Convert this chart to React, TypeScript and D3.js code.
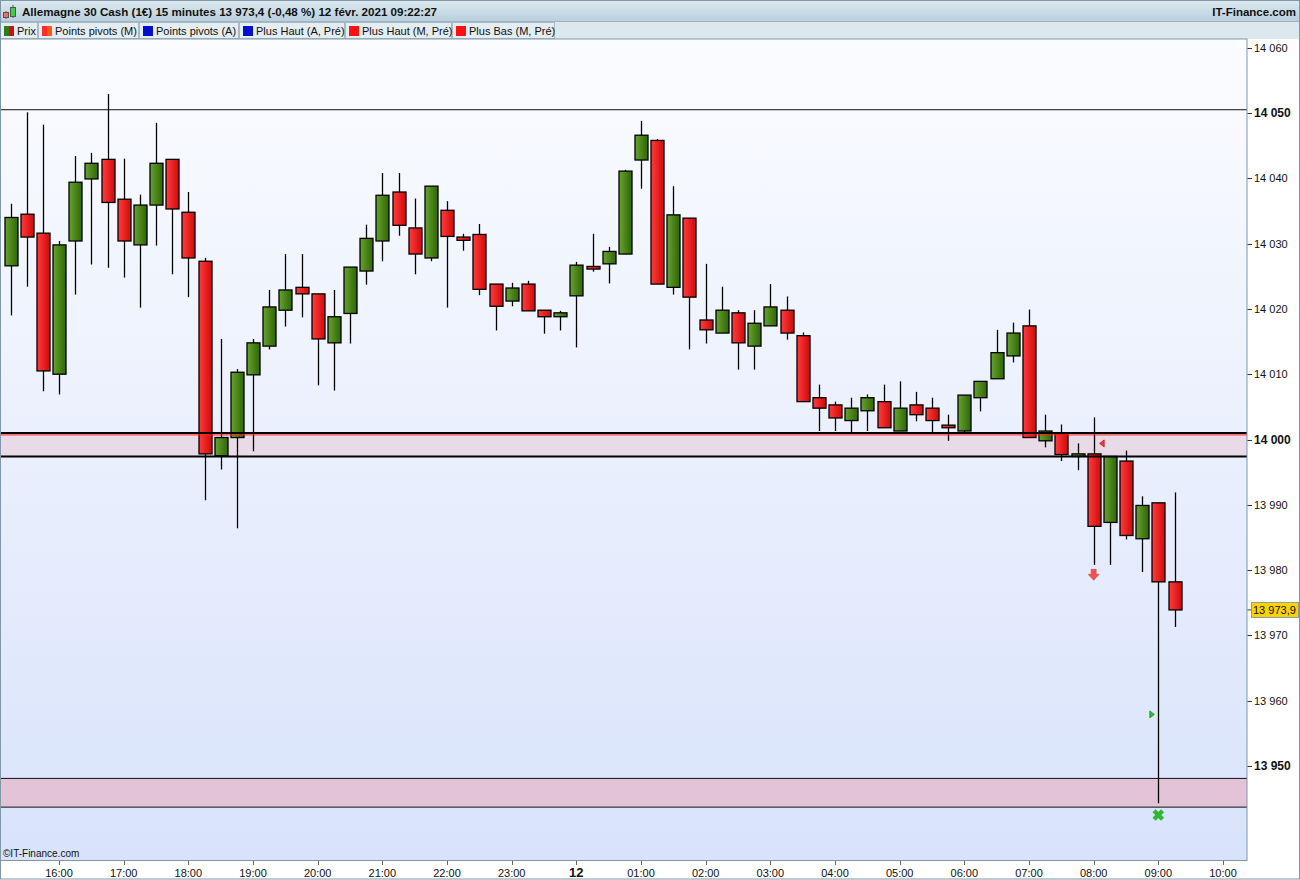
import { scaleLinear } from 'd3'

const W = 1300
const H = 880
const PLOT_L = 0
const PLOT_R = 1247
const PLOT_T = 39
const PLOT_B = 860
const FONT = '"Liberation Sans", Arial, sans-serif'

// 15-minute candles, first one at 15:15 on the 11th
const START_HOUR = 15.25
const STEP = 0.25
const opens = [
  14026.6, 14034.5, 14031.6, 14010.0, 14030.4, 14039.9, 14042.9, 14036.8, 14029.8, 14035.9,
  14042.9, 14034.8, 14027.3, 13997.5, 14000.3, 14009.9, 14014.3, 14019.8, 14023.3, 14022.3,
  14014.8, 14019.3, 14025.8, 14030.4, 14037.9, 14032.4, 14027.8, 14035.1, 14031.0, 14031.4,
  14023.8, 14021.2, 14023.8, 14019.8, 14018.8, 14022.0, 14026.5, 14026.9, 14028.4, 14042.8,
  14045.8, 14023.3, 14033.9, 14018.3, 14016.3, 14019.4, 14014.3, 14017.4, 14019.8, 14015.9,
  14006.4, 14005.3, 14002.9, 14004.4, 14005.8, 14001.3, 14005.3, 14004.8, 14002.2, 14001.3,
  14006.4, 14009.3, 14012.8, 14017.4, 13999.8, 14000.9, 13997.4, 13997.8, 13987.3, 13996.7,
  13984.8, 13990.3, 13978.2,
]
const highs = [
  14036.1, 14050.1, 14048.2, 14030.4, 14043.4, 14043.9, 14052.9, 14043.0, 14037.5, 14048.5,
  14042.9, 14037.9, 14027.8, 14015.4, 14010.8, 14015.4, 14022.9, 14028.4, 14028.4, 14022.3,
  14022.9, 14026.4, 14032.9, 14040.8, 14040.8, 14036.9, 14038.8, 14036.5, 14031.5, 14033.0,
  14023.8, 14024.0, 14024.3, 14019.8, 14019.7, 14027.2, 14031.5, 14029.5, 14041.3, 14048.8,
  14046.0, 14038.8, 14033.9, 14026.9, 14023.4, 14019.8, 14019.8, 14023.8, 14021.9, 14016.4,
  14008.4, 14005.8, 14006.4, 14006.9, 14008.4, 14008.9, 14007.3, 14006.4, 14003.8, 14006.8,
  14008.9, 14016.8, 14017.9, 14019.9, 14003.8, 14002.3, 13999.4, 14003.4, 13997.4, 13998.3,
  13991.3, 13990.3, 13991.9,
]
const lows = [
  14019.0, 14023.4, 14007.4, 14006.9, 14022.2, 14026.8, 14026.3, 14024.8, 14020.2, 14029.7,
  14025.3, 14021.8, 13990.7, 13995.4, 13986.4, 13998.2, 14013.8, 14017.3, 14018.7, 14008.3,
  14007.5, 14014.7, 14023.7, 14027.3, 14031.2, 14025.3, 14027.3, 14020.2, 14028.9, 14022.1,
  14016.7, 14020.4, 14019.7, 14016.2, 14016.7, 14014.1, 14025.7, 14023.9, 14028.4, 14038.4,
  14023.8, 14022.2, 14013.8, 14014.7, 14016.3, 14010.7, 14010.7, 14017.4, 14015.3, 14005.8,
  14001.3, 14001.3, 14001.1, 14001.3, 14001.8, 14001.3, 14002.8, 14001.1, 13999.8, 14001.0,
  14004.3, 14009.3, 14011.8, 14000.3, 13998.8, 13996.7, 13995.3, 13980.8, 13980.8, 13984.7,
  13979.7, 13944.3, 13971.3,
]
const closes = [
  14034.0, 14031.0, 14010.5, 14029.8, 14039.4, 14042.3, 14036.3, 14030.4, 14035.9, 14042.3,
  14035.3, 14027.8, 13997.8, 14000.3, 14010.3, 14014.8, 14020.3, 14022.9, 14022.3, 14015.4,
  14018.8, 14026.4, 14030.8, 14037.4, 14032.8, 14028.4, 14038.8, 14031.1, 14030.5, 14023.0,
  14020.4, 14023.2, 14019.7, 14018.8, 14019.4, 14026.7, 14026.1, 14028.8, 14041.1, 14046.6,
  14023.8, 14034.4, 14021.8, 14016.8, 14019.8, 14014.8, 14017.8, 14020.3, 14016.3, 14005.8,
  14004.8, 14003.3, 14004.8, 14006.4, 14001.8, 14004.8, 14003.8, 14002.9, 14001.8, 14006.8,
  14008.9, 14013.3, 14016.3, 14000.3, 14001.3, 13997.7, 13997.8, 13986.7, 13997.4, 13985.3,
  13989.9, 13978.2, 13973.9,
]

const LAST_PRICE = 13973.9
const LAST_LABEL = '13 973,9'

// horizontal levels
const YEAR_HIGH = 14050.5
const PIVOT_BAND = [14001.0, 13997.4]
const PIVOT_RED = 14000.7
const LOW_BAND = [13948.1, 13943.7]

const yTicks = [13950, 13960, 13970, 13980, 13990, 14000, 14010, 14020, 14030, 14040, 14050, 14060]
const yBold = [13950, 14000, 14050]
const xTickHours = [16, 17, 18, 19, 20, 21, 22, 23, 24, 25, 26, 27, 28, 29, 30, 31, 32, 33, 34]
const xTickLabels = ['16:00', '17:00', '18:00', '19:00', '20:00', '21:00', '22:00', '23:00', '12',
  '01:00', '02:00', '03:00', '04:00', '05:00', '06:00', '07:00', '08:00', '09:00', '10:00']

// signal markers: candle index, price
const markers = [
  { kind: 'triLeftRed', index: 67, price: 13999.4 },
  { kind: 'arrowDown', index: 67, price: 13979.2 },
  { kind: 'triRightGreen', index: 71, price: 13957.9 },
  { kind: 'cross', index: 71, price: 13942.5 },
]

const legendLabels = ['Prix', 'Points pivots (M)', 'Points pivots (A)', 'Plus Haut (A, Pré)', 'Plus Haut (M, Pré)', 'Plus Bas (M, Pré)']
const legendColors = [['#2e7d1a', '#cc1010'], ['#ff2a2a', '#ff5a10'], ['#0010cc', '#0010cc'], ['#0010cc', '#0010cc'], ['#ff1010', '#ff1010'], ['#ff1010', '#ff1010']]
const LEGEND_W = [38, 101, 100, 106, 107, 103]

const TITLE = 'Allemagne 30 Cash (1€) 15 minutes 13 973,4 (-0,48 %) 12 févr. 2021 09:22:27'

const fmt = (v: number) => {
  const s = String(v)
  return s.length > 3 ? s.slice(0, s.length - 3) + ' ' + s.slice(-3) : s
}

export default function App() {
  const y = scaleLinear().domain([13950, 14050]).range([766, 113])
  const x = scaleLinear().domain([16, 34]).range([59, 1223])
  const cx = (i: number) => x(START_HOUR + i * STEP)
  const bodyW = 13

  let lx = 0
  const legendX = LEGEND_W.map((w) => {
    const v = lx
    lx += w
    return v
  })

  return (
    <div>
      <style>{`body{margin:0}`}</style>
      <svg width={W} height={H} style={{ display: 'block', fontFamily: FONT }}>
        <defs>
          <linearGradient id="bg" x1="0" y1="0" x2="0" y2="1">
            <stop offset="0" stopColor="#fbfcff" />
            <stop offset="1" stopColor="#d8e3fb" />
          </linearGradient>
          <linearGradient id="hdr" x1="0" y1="0" x2="0" y2="1">
            <stop offset="0" stopColor="#dde9f0" />
            <stop offset="1" stopColor="#b9d0dd" />
          </linearGradient>
          <linearGradient id="up" x1="0" y1="0" x2="1" y2="0">
            <stop offset="0" stopColor="#67a333" />
            <stop offset="1" stopColor="#2f6600" />
          </linearGradient>
          <linearGradient id="down" x1="0" y1="0" x2="1" y2="0">
            <stop offset="0" stopColor="#ff3d3d" />
            <stop offset="1" stopColor="#d00808" />
          </linearGradient>
        </defs>

        <rect x={0} y={0} width={W} height={H} fill="#ffffff" />
        {/* header */}
        <rect x={0} y={0} width={W} height={21} fill="url(#hdr)" />
        <line x1={0} x2={W} y1={21.5} y2={21.5} stroke="#9fb4c2" />
        <g>
          <line x1={6} x2={6} y1={11} y2={19} stroke="#555" />
          <rect x={3.5} y={12.5} width={5} height={5} fill="#f07070" stroke="#555" />
          <line x1={13} x2={13} y1={5} y2={18} stroke="#555" />
          <rect x={10.5} y={7.5} width={5} height={9} fill="#40d040" stroke="#555" />
        </g>
        <text x={22} y={16} fontSize={11.6} fontWeight="bold" fill="#111">{TITLE}</text>
        <text x={1296} y={16} fontSize={11.5} fontWeight="bold" fill="#111" textAnchor="end">IT-Finance.com</text>

        {/* legend row */}
        <rect x={0} y={22} width={W} height={17} fill="#dde8ee" />
        {legendLabels.map((label, i) => (
          <g key={label} transform={`translate(${legendX[i]},22)`}>
            <rect x={0.5} y={0.5} width={LEGEND_W[i] - 1} height={16} fill="#e4edf2" stroke="#a8bac6" />
            <rect x={4} y={4} width={5} height={10} fill={legendColors[i][0]} />
            <rect x={9} y={4} width={5} height={10} fill={legendColors[i][1]} />
            <text x={17} y={13} fontSize={11} fill="#111">{label}</text>
          </g>
        ))}

        {/* plot area */}
        <rect x={PLOT_L} y={PLOT_T} width={PLOT_R - PLOT_L} height={PLOT_B - PLOT_T} fill="url(#bg)" />

        {/* bands and levels */}
        <rect x={PLOT_L} y={y(PIVOT_BAND[0])} width={PLOT_R} height={y(PIVOT_BAND[1]) - y(PIVOT_BAND[0])} fill="#e8dae7" />
        <rect x={PLOT_L} y={y(LOW_BAND[0])} width={PLOT_R} height={y(LOW_BAND[1]) - y(LOW_BAND[0])} fill="#e2c3d8" />
        <line x1={PLOT_L} x2={PLOT_R} y1={y(YEAR_HIGH)} y2={y(YEAR_HIGH)} stroke="#111" strokeWidth={1} />
        <line x1={PLOT_L} x2={PLOT_R} y1={y(LOW_BAND[0])} y2={y(LOW_BAND[0])} stroke="#111" strokeWidth={1} />
        <line x1={PLOT_L} x2={PLOT_R} y1={y(LOW_BAND[1])} y2={y(LOW_BAND[1])} stroke="#111" strokeWidth={1} />

        {/* candles */}
        {opens.map((o, i) => {
          const c = closes[i]
          const up = c >= o
          const top = y(Math.max(o, c))
          const bot = y(Math.min(o, c))
          const xc = Math.round(cx(i)) + 0.5
          return (
            <g key={i}>
              <line x1={xc} x2={xc} y1={y(highs[i])} y2={y(lows[i])} stroke="#000" strokeWidth={1.3} />
              <rect
                x={xc - bodyW / 2}
                y={top}
                width={bodyW}
                height={Math.max(bot - top, 2)}
                fill={up ? 'url(#up)' : 'url(#down)'}
                stroke="#000"
                strokeWidth={1.3}
              />
            </g>
          )
        })}

        {/* pivot band lines drawn over candles */}
        <line x1={PLOT_L} x2={PLOT_R} y1={y(PIVOT_BAND[0])} y2={y(PIVOT_BAND[0])} stroke="#000" strokeWidth={2} />
        <line x1={PLOT_L} x2={PLOT_R} y1={y(PIVOT_RED)} y2={y(PIVOT_RED)} stroke="#ff2020" strokeWidth={1} />
        <line x1={PLOT_L} x2={PLOT_R} y1={y(PIVOT_BAND[1])} y2={y(PIVOT_BAND[1])} stroke="#000" strokeWidth={2} />

        {/* markers */}
        {markers.map((m, i) => {
          const mx = cx(m.index)
          const my = y(m.price)
          if (m.kind === 'triLeftRed') {
            const px = mx + 9
            return <path key={i} d={`M${px - 3},${my} L${px + 1.5},${my - 3.5} L${px + 1.5},${my + 3.5} Z`} fill="#f04040" stroke="#c01010" strokeWidth={0.8} />
          }
          if (m.kind === 'triRightGreen') {
            const px = mx - 7
            return <path key={i} d={`M${px + 3},${my} L${px - 1.5},${my - 3.5} L${px - 1.5},${my + 3.5} Z`} fill="#30c030" stroke="#109010" strokeWidth={0.8} />
          }
          if (m.kind === 'arrowDown') {
            return (
              <path
                key={i}
                d={`M${mx - 2.5},${my - 6} L${mx + 2.5},${my - 6} L${mx + 2.5},${my - 1} L${mx + 5.5},${my - 1} L${mx},${my + 5} L${mx - 5.5},${my - 1} L${mx - 2.5},${my - 1} Z`}
                fill="#f05050"
                stroke="#d84040"
                strokeWidth={0.6}
              />
            )
          }
          return (
            <g key={i} transform={`translate(${mx},${my}) rotate(45)`}>
              <rect x={-6} y={-2.2} width={12} height={4.4} fill="#30b830" />
              <rect x={-2.2} y={-6} width={4.4} height={12} fill="#30b830" />
            </g>
          )
        })}

        <text x={3} y={857} fontSize={10} fill="#111">©IT-Finance.com</text>

        {/* plot frame */}
        <rect x={0.5} y={PLOT_T} width={PLOT_R - 0.5} height={PLOT_B - PLOT_T + 0.5} fill="none" stroke="#7f97a8" />

        {/* y axis */}
        {yTicks.map((t) => (
          <g key={t}>
            <line x1={PLOT_R + 0.5} x2={PLOT_R + 5} y1={Math.round(y(t)) + 0.5} y2={Math.round(y(t)) + 0.5} stroke="#333" />
            <text
              x={PLOT_R + 7}
              y={y(t) + 4}
              fontSize={yBold.includes(t) ? 12 : 11}
              fontWeight={yBold.includes(t) ? 'bold' : 'normal'}
              fill="#111"
            >
              {fmt(t)}
            </text>
          </g>
        ))}
        <line x1={PLOT_R + 0.5} x2={PLOT_R + 5} y1={y(LAST_PRICE)} y2={y(LAST_PRICE)} stroke="#333" />
        <rect x={PLOT_R + 4.5} y={y(LAST_PRICE) - 7.5} width={47} height={15} fill="#fcd200" stroke="#8a9aa8" />
        <text x={PLOT_R + 6} y={y(LAST_PRICE) + 4} fontSize={11} fill="#111">{LAST_LABEL}</text>

        {/* x axis */}
        {xTickHours.map((h, i) => (
          <g key={h}>
            <line x1={Math.round(x(h)) + 0.5} x2={Math.round(x(h)) + 0.5} y1={PLOT_B + 1} y2={PLOT_B + 5} stroke="#666" />
            <text
              x={x(h)}
              y={PLOT_B + 17}
              fontSize={xTickLabels[i] === '12' ? 13 : 11}
              fontWeight={xTickLabels[i] === '12' ? 'bold' : 'normal'}
              textAnchor="middle"
              fill="#111"
            >
              {xTickLabels[i]}
            </text>
          </g>
        ))}

        {/* outer frame */}
        <rect x={0.5} y={0.5} width={W - 1} height={H - 1.5} fill="none" stroke="#7f97a8" />
      </svg>
    </div>
  )
}
